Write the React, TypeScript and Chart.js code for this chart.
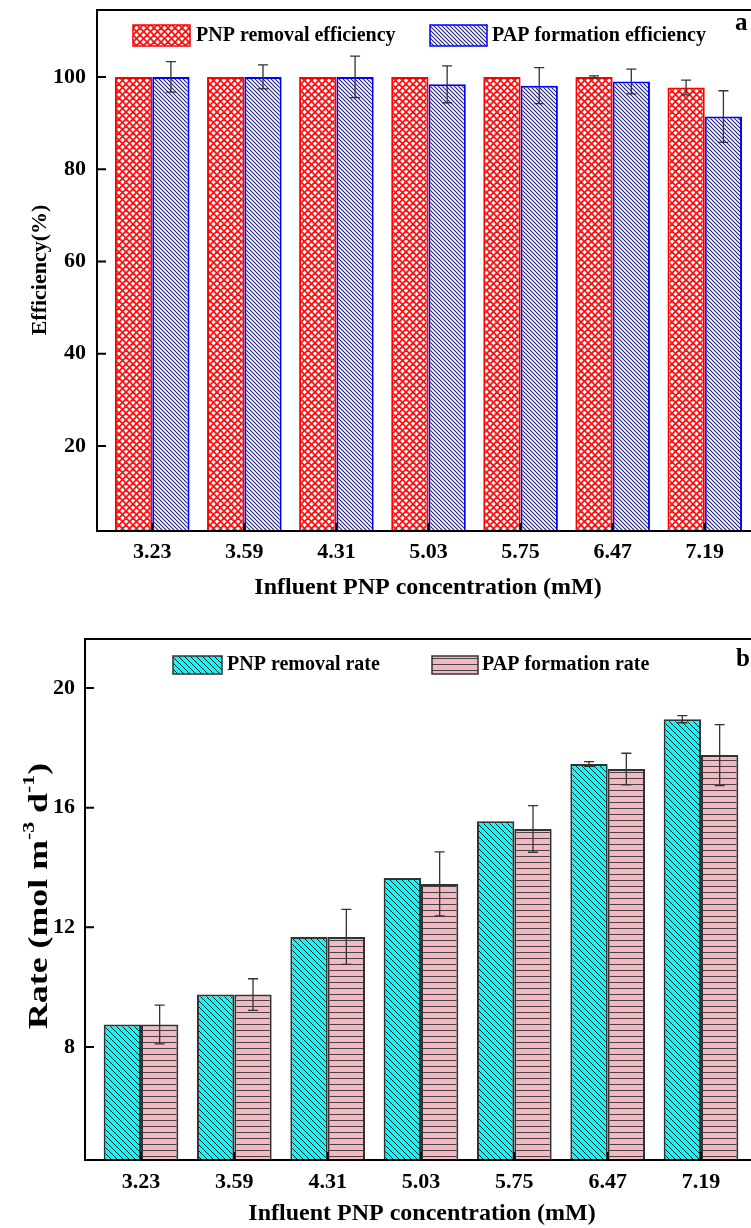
import React, { useEffect, useRef } from 'react';
import { Chart, registerables } from 'chart.js';

Chart.register(...registerables);

// ---------------- data ----------------
const categories = ['3.23', '3.59', '4.31', '5.03', '5.75', '6.47', '7.19'];

const pnpRemovalEff = [100, 100, 100, 100, 100, 100, 97.7];
const pnpRemovalEffErr = [0, 0, 0, 0, 0, 0.2, 1.6];
const papFormationEff = [100, 100, 100, 98.4, 98.1, 99.0, 91.4];
const papFormationEffErr = [3.3, 2.6, 4.5, 4.0, 3.9, 2.7, 5.6];

const pnpRemovalRate = [8.75, 9.75, 11.68, 13.65, 15.55, 17.46, 18.96];
const pnpRemovalRateErr = [0, 0, 0, 0, 0, 0.08, 0.12];
const papFormationRate = [8.75, 9.75, 11.68, 13.45, 15.29, 17.29, 17.76];
const papFormationRateErr = [0.65, 0.53, 0.92, 1.07, 0.78, 0.53, 1.02];

const effTickStep = 20;
const rateTickStep = 4;

// ---------------- style ----------------
const FONT = '"Liberation Serif", "Times New Roman", serif';
const font = (size: number) => `bold ${size}px ${FONT}`;

function linePattern(size: number, bg: string, color: string, lw: number, dirs: string[]) {
  const c = document.createElement('canvas');
  c.width = size;
  c.height = size;
  const g = c.getContext('2d')!;
  g.fillStyle = bg;
  g.fillRect(0, 0, size, size);
  g.strokeStyle = color;
  g.lineWidth = lw;
  for (const d of dirs) {
    if (d === 'h') {
      g.beginPath();
      g.moveTo(0, 0.5);
      g.lineTo(size, 0.5);
      g.stroke();
      continue;
    }
    for (let k = -1; k <= 1; k++) {
      g.beginPath();
      if (d === 'back') {
        g.moveTo(k * size - 1, -1);
        g.lineTo(k * size + size + 1, size + 1);
      } else {
        g.moveTo(k * size + size + 1, -1);
        g.lineTo(k * size - 1, size + 1);
      }
      g.stroke();
    }
  }
  return g.createPattern(c, 'repeat')!;
}

type PanelCfg = {
  values: number[][];
  errors: number[][];
  labels: string[];
  fills: CanvasPattern[];
  borders: string[];
  borderWidths: number[];
  yMin: number;
  yMax: number;
  yStep: number;
  padRight: number;
  padTop: number;
  yWidth: number;
  xHeight: number;
  yPad: number;
  xPad: number;
  catPct: number;
  legend: { box: [number, number, number, number]; textX: number }[];
  legendY: number;
  letter: string;
  letterX: number;
  letterY: number;
  xTitleX: number;
  xTitleY: number;
  yTitleX: number;
  yTitleY: number;
  yTitle: (ctx: CanvasRenderingContext2D) => void;
};

function buildChart(canvas: HTMLCanvasElement, cfg: PanelCfg) {
  const custom = {
    id: 'custom',
    afterDatasetsDraw(chart: any) {
      const { ctx, chartArea: ca } = chart;
      const x = chart.scales.x;
      const y = chart.scales.y;
      ctx.save();
      // error bars
      cfg.values.forEach((vals, di) => {
        const meta = chart.getDatasetMeta(di);
        meta.data.forEach((el: any, j: number) => {
          const e = cfg.errors[di][j];
          if (!e) return;
          const v = vals[j];
          const yt = y.getPixelForValue(v + e);
          const yb = y.getPixelForValue(v - e);
          ctx.strokeStyle = '#333';
          ctx.lineWidth = 1.3;
          ctx.beginPath();
          ctx.moveTo(el.x, yt);
          ctx.lineTo(el.x, yb);
          ctx.moveTo(el.x - 5, yt);
          ctx.lineTo(el.x + 5, yt);
          ctx.moveTo(el.x - 5, yb);
          ctx.lineTo(el.x + 5, yb);
          ctx.stroke();
        });
      });
      // frame
      ctx.strokeStyle = '#000';
      ctx.lineWidth = 2;
      ctx.beginPath();
      ctx.moveTo(ca.right + 10, ca.top);
      ctx.lineTo(ca.left, ca.top);
      ctx.lineTo(ca.left, ca.bottom);
      ctx.lineTo(ca.right + 10, ca.bottom);
      ctx.stroke();
      // inward ticks
      ctx.beginPath();
      y.ticks.forEach((t: any) => {
        const py = y.getPixelForValue(t.value);
        ctx.moveTo(ca.left, py);
        ctx.lineTo(ca.left + 9, py);
      });
      x.ticks.forEach((t: any) => {
        const px = x.getPixelForValue(t.value);
        ctx.moveTo(px, ca.bottom);
        ctx.lineTo(px, ca.bottom - 8);
      });
      ctx.stroke();
      ctx.restore();
    },
    afterDraw(chart: any) {
      const { ctx } = chart;
      ctx.save();
      // legend
      cfg.legend.forEach((lg, i) => {
        const [bx, by, bw, bh] = lg.box;
        ctx.fillStyle = cfg.fills[i];
        ctx.fillRect(bx, by, bw, bh);
        ctx.strokeStyle = cfg.borders[i];
        ctx.lineWidth = 1.5;
        ctx.strokeRect(bx, by, bw, bh);
        ctx.fillStyle = '#000';
        ctx.font = font(20);
        ctx.textAlign = 'left';
        ctx.textBaseline = 'middle';
        ctx.fillText(cfg.labels[i], lg.textX, cfg.legendY);
      });
      // panel letter
      ctx.font = font(25);
      ctx.textAlign = 'left';
      ctx.textBaseline = 'middle';
      ctx.fillText(cfg.letter, cfg.letterX, cfg.letterY);
      // x title
      ctx.font = font(24);
      ctx.textAlign = 'center';
      ctx.fillText('Influent PNP concentration (mM)', cfg.xTitleX, cfg.xTitleY);
      // y title
      ctx.translate(cfg.yTitleX, cfg.yTitleY);
      ctx.rotate(-Math.PI / 2);
      cfg.yTitle(ctx);
      ctx.restore();
    },
  };

  const tickFont = { family: FONT, size: 22, weight: 'bold' as const };

  return new Chart(canvas, {
    type: 'bar',
    data: {
      datasets: cfg.values.map((vals, di) => ({
        label: cfg.labels[di],
        data: categories.map((_, i) => ({ x: i + 1, y: vals[i] })),
        backgroundColor: cfg.fills[di],
        borderColor: cfg.borders[di],
        borderWidth: cfg.borderWidths[di],
        categoryPercentage: cfg.catPct,
        barPercentage: 1,
      })),
    },
    options: {
      animation: false,
      responsive: false,
      events: [],
      layout: { padding: { left: 0, top: cfg.padTop, right: cfg.padRight, bottom: 0 } },
      scales: {
        x: {
          type: 'linear',
          min: 0.4,
          max: 7.6,
          offset: false,
          grid: { display: false, drawTicks: false },
          border: { display: false },
          ticks: {
            stepSize: 1,
            includeBounds: false,
            autoSkip: false,
            maxRotation: 0,
            minRotation: 0,
            padding: cfg.xPad,
            color: '#000',
            font: tickFont,
            callback: (v: any) => categories[Math.round(Number(v)) - 1] ?? '',
          },
          afterFit: (s: any) => {
            s.height = cfg.xHeight;
            s.paddingLeft = 0;
            s.paddingRight = 0;
          },
        },
        y: {
          type: 'linear',
          min: cfg.yMin,
          max: cfg.yMax,
          grid: { display: false, drawTicks: false },
          border: { display: false },
          ticks: {
            stepSize: cfg.yStep,
            includeBounds: false,
            padding: cfg.yPad,
            color: '#000',
            font: tickFont,
          },
          afterFit: (s: any) => {
            s.width = cfg.yWidth;
            s.paddingTop = 0;
            s.paddingBottom = 0;
          },
        },
      },
      plugins: { legend: { display: false }, tooltip: { enabled: false } },
    } as any,
    plugins: [custom],
  });
}

export default function App() {
  const refA = useRef<HTMLCanvasElement>(null);
  const refB = useRef<HTMLCanvasElement>(null);

  useEffect(() => {
    const redPat = linePattern(7, '#ffffff', '#ff1010', 1.8, ['back', 'fwd']);
    const bluePat = linePattern(4, '#ffffff', '#1c1c90', 1.1, ['back']);
    const cyanPat = linePattern(6, '#00ffff', '#1a1a1a', 1, ['back']);
    const pinkPat = linePattern(6, '#f5b8c2', '#444444', 1, ['h']);

    const chartA = buildChart(refA.current!, {
      values: [pnpRemovalEff, papFormationEff],
      errors: [pnpRemovalEffErr, papFormationEffErr],
      labels: ['PNP removal efficiency', 'PAP formation efficiency'],
      fills: [redPat, bluePat],
      borders: ['#ff0000', '#0000ff'],
      borderWidths: [2, 2],
      yMin: 1.57,
      yMax: 114.5,
      yStep: effTickStep,
      padRight: 20,
      padTop: 10,
      yWidth: 97,
      xHeight: 79,
      yPad: 11,
      xPad: 8,
      catPct: 0.81,
      legend: [
        { box: [133, 25, 57, 21], textX: 196 },
        { box: [430, 25, 57, 21], textX: 492 },
      ],
      legendY: 36,
      letter: 'a',
      letterX: 735,
      letterY: 24,
      xTitleX: 428,
      xTitleY: 588,
      yTitleX: 40,
      yTitleY: 270,
      yTitle: (ctx) => {
        ctx.font = font(22);
        ctx.textAlign = 'center';
        ctx.textBaseline = 'middle';
        ctx.fillStyle = '#000';
        ctx.fillText('Efficiency(%)', 0, 0);
      },
    });

    const chartB = buildChart(refB.current!, {
      values: [pnpRemovalRate, papFormationRate],
      errors: [pnpRemovalRateErr, papFormationRateErr],
      labels: ['PNP removal rate', 'PAP formation rate'],
      fills: [cyanPat, pinkPat],
      borders: ['#333333', '#333333'],
      borderWidths: [2, 2],
      yMin: 4.22,
      yMax: 21.64,
      yStep: rateTickStep,
      padRight: 23,
      padTop: 29,
      yWidth: 85,
      xHeight: 68,
      yPad: 10,
      xPad: 9,
      catPct: 0.8,
      legend: [
        { box: [173, 46, 49, 18], textX: 227 },
        { box: [432, 46, 46, 18], textX: 482 },
      ],
      legendY: 55,
      letter: 'b',
      letterX: 736,
      letterY: 50,
      xTitleX: 422,
      xTitleY: 604,
      yTitleX: 40,
      yTitleY: 286,
      yTitle: (ctx) => {
        const big = font(28);
        const small = font(17);
        const segs: [string, boolean][] = [
          ['Rate (mol m', false],
          ['-3', true],
          [' d', false],
          ['-1', true],
          [')', false],
        ];
        ctx.scale(1.28, 1);
        let total = 0;
        const widths = segs.map(([t, sup]) => {
          ctx.font = sup ? small : big;
          const w = ctx.measureText(t).width;
          total += w;
          return w;
        });
        let cx = -total / 2;
        ctx.textAlign = 'left';
        ctx.textBaseline = 'middle';
        ctx.fillStyle = '#000';
        segs.forEach(([t, sup], i) => {
          ctx.font = sup ? small : big;
          ctx.fillText(t, cx, sup ? -10 : 0);
          cx += widths[i];
        });
      },
    });

    return () => {
      chartA.destroy();
      chartB.destroy();
    };
  }, []);

  return (
    <div
      style={{
        position: 'absolute',
        left: 0,
        top: 0,
        width: 751,
        height: 1228,
        overflow: 'hidden',
        background: '#fff',
      }}
    >
      <div style={{ position: 'absolute', left: 0, top: 0 }}>
        <canvas ref={refA} width={780} height={610} style={{ width: 780, height: 610, display: 'block' }} />
      </div>
      <div style={{ position: 'absolute', left: 0, top: 610 }}>
        <canvas ref={refB} width={780} height={618} style={{ width: 780, height: 618, display: 'block' }} />
      </div>
    </div>
  );
}
